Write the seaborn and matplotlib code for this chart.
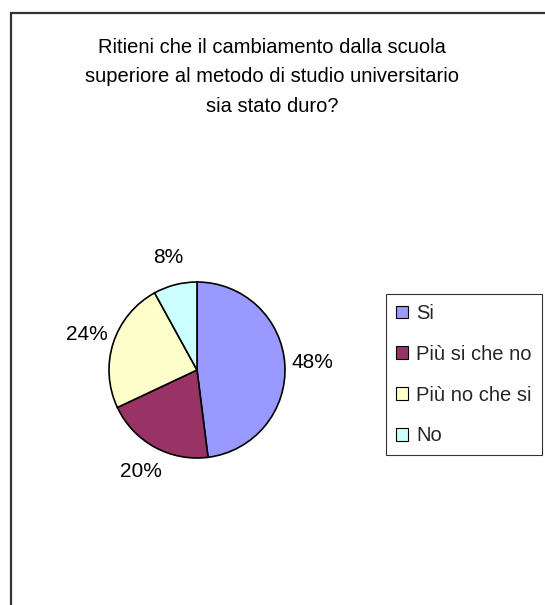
import matplotlib
matplotlib.use("Agg")
import matplotlib.pyplot as plt
import seaborn as sns
from matplotlib.patches import Rectangle

# data
categories = ["Si", "Più si che no", "Più no che si", "No"]
values = [48, 20, 24, 8]
colors = ["#9999FF", "#993366", "#FFFFCC", "#CCFFFF"]
title = "Ritieni che il cambiamento dalla scuola\nsuperiore al metodo di studio universitario\nsia stato duro?"

sns.set_style("white")
plt.rcParams["font.family"] = ["Liberation Sans", "DejaVu Sans"]

W, H = 545, 605
fig = plt.figure(figsize=(W / 100, H / 100), dpi=100)
fig.patch.set_facecolor("white")

# chart frame (cut off at right and bottom)
fig.add_artist(Rectangle((11 / W, -0.1), 1.2, 1 - 13 / H + 0.1, transform=fig.transFigure,
                         fill=False, edgecolor="#333333", linewidth=1.6))

fig.text(272 / W, 1 - 77 / H, title, ha="center", va="center", fontsize=14.5,
         linespacing=1.68, color="black")

cx, cy, r = 197, 370, 88
ax = fig.add_axes([(cx - r) / W, 1 - (cy + r) / H, 2 * r / W, 2 * r / H])
wedges, texts, autotexts = ax.pie(values, colors=colors, startangle=90, counterclock=False,
                                  autopct="%1.0f%%", pctdistance=1.32,
                                  wedgeprops=dict(edgecolor="black", linewidth=1.2),
                                  textprops=dict(fontsize=15, color="black"))
ax.set_xlim(-1, 1)
ax.set_ylim(-1, 1)
for t in autotexts:
    t.set_clip_on(False)
for w in wedges:
    w.set_clip_on(False)

leg = fig.legend(wedges, categories, loc="upper left", bbox_to_anchor=(386 / W, 1 - 294 / H),
                 frameon=True, fancybox=False, edgecolor="black", fontsize=14.5,
                 handlelength=0.6, handleheight=0.6, handletextpad=0.4,
                 labelspacing=1.08, borderpad=0.5, borderaxespad=0)
leg.get_frame().set_linewidth(0.8)
for h in leg.legend_handles:
    h.set_linewidth(0.8)

fig.savefig("out.png", dpi=100, facecolor="white")
